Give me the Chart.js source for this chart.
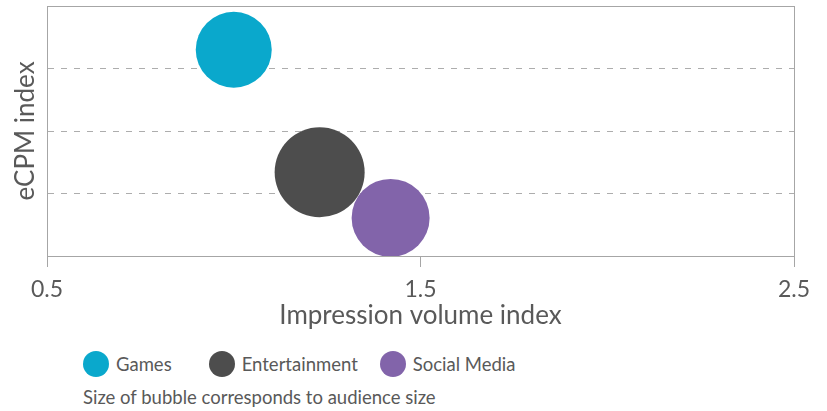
<!DOCTYPE html>
<html>
<head>
<meta charset="utf-8">
<script src="https://cdn.jsdelivr.net/npm/chart.js@4.4.1/dist/chart.umd.min.js"></script>
<style>
  body { margin: 0; background: #fff; font-family: Lato, "Open Sans", sans-serif; }
  #wrap { position: relative; width: 827px; height: 411px; }
  #chartBox { position: absolute; left: 0; top: 0; width: 827px; height: 335px; }
  #legend { position: absolute; left: 83px; top: 351px; display: flex; align-items: center; color: #595959; font-size: 18.5px; }
  .item { display: flex; align-items: center; }
  .dot { width: 26px; height: 26px; border-radius: 50%; margin-right: 7px; }
  #note { position: absolute; left: 83px; top: 386px; color: #595959; font-size: 18.5px; }
</style>
</head>
<body>
<div id="wrap">
  <div id="chartBox"><canvas id="bubbleChart"></canvas></div>
  <div id="legend"></div>
  <div id="note">Size of bubble corresponds to audience size</div>
</div>
<script>
    // categories and values
    var categories = ['Games', 'Entertainment', 'Social Media'];
    var impressionIndex = [1.0, 1.23, 1.42];
    var ecpmIndex = [3.3, 1.34, 0.61];
    var bubbleRadius = [38, 45, 39];
    var colors = ['#0aa8cc', '#4d4d4d', '#8264aa'];
    var xTicks = [0.5, 1.5, 2.5];

    var textColor = '#595959';

    // plot frame (top and right edges too)
    var frame = {
        id: 'frame',
        afterDatasetsDraw: function (chart) {
            var a = chart.chartArea, c = chart.ctx;
            c.save();
            c.strokeStyle = '#a6a6a6';
            c.lineWidth = 1;
            c.strokeRect(a.left + 0.5, a.top + 0.5, a.right - a.left, a.bottom - a.top);
            c.restore();
        }
    };

    var datasets = categories.map(function (name, i) {
        return {
            label: name,
            data: [{ x: impressionIndex[i], y: ecpmIndex[i], r: bubbleRadius[i] }],
            backgroundColor: colors[i],
            borderWidth: 0,
            clip: false
        };
    });

    var ctx = document.getElementById('bubbleChart').getContext('2d');

    var bubbleChart = new Chart(ctx, {
        type: 'bubble',
        data: { datasets: datasets },
        plugins: [frame],
        options: {
            responsive: true,
            maintainAspectRatio: false,
            animation: false,
            layout: { autoPadding: false, padding: { top: 6, right: 33, left: 0, bottom: 0 } },
            plugins: {
                legend: { display: false },
                tooltip: { enabled: false }
            },
            scales: {
                x: {
                    type: 'linear',
                    min: 0.5,
                    max: 2.5,
                    afterBuildTicks: function (axis) {
                        axis.ticks = xTicks.map(function (v) { return { value: v }; });
                    },
                    afterFit: function (axis) { axis.height = 79; },
                    ticks: {
                        color: textColor,
                        padding: 9,
                        font: { family: 'Lato', size: 23 },
                        callback: function (v) { return v.toFixed(1); }
                    },
                    grid: {
                        drawOnChartArea: false,
                        drawTicks: true,
                        tickLength: 11,
                        color: '#a6a6a6'
                    },
                    border: { color: '#a6a6a6' },
                    title: {
                        display: true,
                        text: 'Impression volume index',
                        color: textColor,
                        font: { family: 'Lato', size: 26 },
                        padding: { top: 0, bottom: 4 }
                    }
                },
                y: {
                    type: 'linear',
                    min: 0,
                    max: 4,
                    afterFit: function (axis) { axis.width = 47; },
                    ticks: { display: false, stepSize: 1 },
                    grid: {
                        drawTicks: false,
                        color: function (c) {
                            return (c.tick && (c.tick.value === 0 || c.tick.value === 4)) ? 'rgba(0,0,0,0)' : '#adadad';
                        }
                    },
                    border: { color: '#a6a6a6', dash: function (c) { return c.tick ? [6, 7] : []; } },
                    title: {
                        display: true,
                        text: 'eCPM index',
                        color: textColor,
                        font: { family: 'Lato', size: 26 },
                        padding: { top: 10, bottom: 0 }
                    }
                }
            }
        }
    });

    // legend built from the same arrays
    var legend = document.getElementById('legend');
    var gaps = [37, 22, 0];
    categories.forEach(function (name, i) {
        var item = document.createElement('div');
        item.className = 'item';
        item.style.marginRight = gaps[i] + 'px';
        var dot = document.createElement('span');
        dot.className = 'dot';
        dot.style.background = colors[i];
        var label = document.createElement('span');
        label.textContent = name;
        item.appendChild(dot);
        item.appendChild(label);
        legend.appendChild(item);
    });
</script>
</body>
</html>
